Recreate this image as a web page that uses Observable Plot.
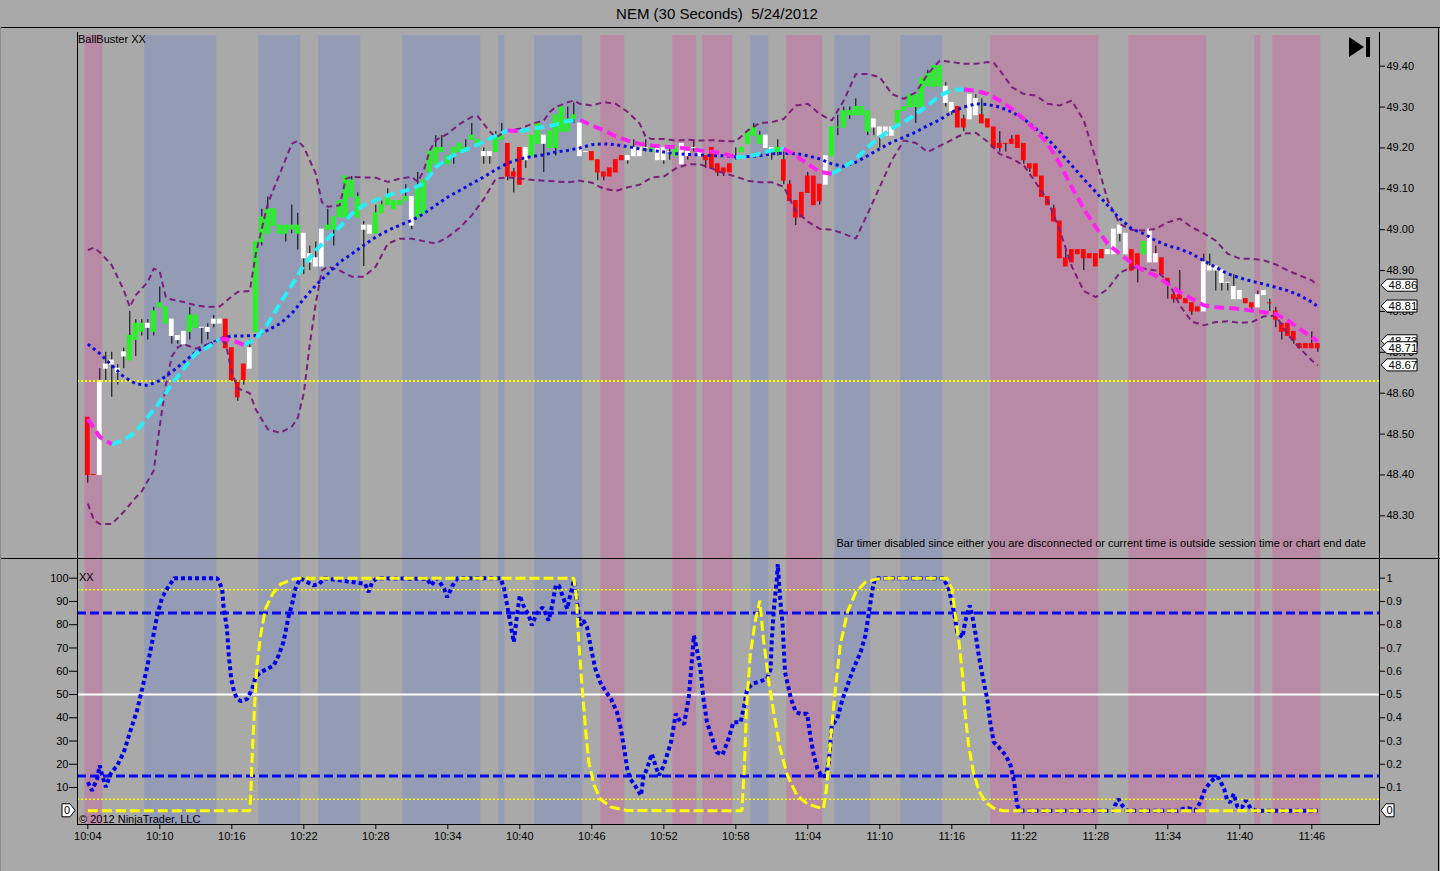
<!DOCTYPE html>
<html><head><meta charset="utf-8">
<script src="https://cdn.jsdelivr.net/npm/d3@7"></script>
<script src="https://cdn.jsdelivr.net/npm/@observablehq/plot@0.6"></script>
<style>
html,body{margin:0;padding:0;background:#a9a9a9;}
#root{position:relative;width:1440px;height:871px;overflow:hidden;background:#a9a9a9;font-family:"Liberation Sans",Arial,sans-serif;color:#000;}
.lbl{position:absolute;white-space:pre;font-size:11px;line-height:13px;}
#overlay{position:absolute;left:0;top:0;pointer-events:none;}
</style></head><body>
<div id="root">
 <div class="lbl" style="left:0;width:1434px;top:5px;text-align:center;font-size:15px;line-height:17px;">NEM (30 Seconds)  5/24/2012</div>
 <div id="upper" style="position:absolute;left:0;top:27px;"></div>
 <div id="lower" style="position:absolute;left:0;top:558px;"></div>
 <div class="lbl" style="left:78px;top:33px;">BallBuster XX</div>
 <div class="lbl" style="left:79px;top:571px;">XX</div>
 <div class="lbl" style="left:79px;top:813px;">© 2012 NinjaTrader, LLC</div>
 <div class="lbl" style="right:74px;top:537px;">Bar timer disabled since either you are disconnected or current time is outside session time or chart end date</div>
 <svg id="overlay" width="1440" height="871"></svg>
</div>
<script>
// ---------------- DATA ----------------
const sessionStart = "10:04:00";
const timeLabels = ["10:04","10:10","10:16","10:22","10:28","10:34","10:40","10:46","10:52","10:58","11:04","11:10","11:16","11:22","11:28","11:34","11:40","11:46"];
const priceTicks = [48.30,48.40,48.50,48.60,48.70,48.80,48.90,49.00,49.10,49.20,49.30,49.40];
const oscTicks = [10,20,30,40,50,60,70,80,90,100];
const referencePrice = 48.63;

// 30-second bars, 10:04:00 .. 11:46:30
const opens = [
48.54,48.40,48.40,48.66,48.67,48.66,48.69,48.68,48.73,48.75,
48.76,48.75,48.81,48.77,48.78,48.74,48.75,48.75,48.76,48.76,
48.76,48.77,48.77,48.78,48.71,48.63,48.67,48.66,48.75,48.97,
48.99,49.01,48.99,48.99,49.00,48.99,48.99,48.94,48.93,48.91,
49.00,49.00,49.03,49.03,49.08,49.03,49.00,48.99,48.99,49.04,
49.06,49.05,49.06,49.07,49.08,49.03,49.04,49.14,49.16,49.19,
49.16,49.18,49.19,49.19,49.22,49.21,49.19,49.19,49.19,49.22,
49.21,49.14,49.20,49.17,49.18,49.21,49.23,49.20,49.20,49.24,
49.24,49.27,49.26,49.19,49.19,49.17,49.14,49.15,49.17,49.18,
49.17,49.18,49.18,49.20,49.19,49.20,49.20,49.19,49.18,49.21,
49.19,49.20,49.19,49.18,49.20,49.16,49.15,49.16,49.18,49.19,
49.21,49.23,49.21,49.23,49.20,49.19,49.17,49.11,49.07,49.09,
49.13,49.13,49.11,49.11,49.18,49.25,49.25,49.28,49.28,49.28,
49.24,49.27,49.25,49.25,49.25,49.26,49.29,49.30,49.30,49.30,
49.35,49.35,49.35,49.35,49.31,49.30,49.27,49.27,49.28,49.28,
49.27,49.25,49.21,49.21,49.22,49.23,49.21,49.16,49.16,49.13,
49.08,49.05,49.02,48.93,48.95,48.95,48.95,48.94,48.94,48.95,
48.94,48.94,48.99,48.94,48.95,48.94,48.94,48.92,48.94,48.93,
48.88,48.84,48.84,48.83,48.82,48.81,48.80,48.91,48.91,48.90,
48.87,48.86,48.85,48.83,48.82,48.81,48.84,48.82,48.80,48.77,
48.77,48.75,48.72,48.72,48.72,48.72];
const highs = [
48.54,48.40,48.66,48.70,48.70,48.67,48.71,48.80,48.78,48.78,
48.78,48.81,48.86,48.81,48.78,48.74,48.75,48.81,48.79,48.76,
48.77,48.79,48.78,48.78,48.71,48.63,48.67,48.73,48.97,49.05,
49.08,49.05,49.01,49.01,49.06,49.04,48.99,48.96,48.97,49.00,
49.05,49.03,49.07,49.13,49.13,49.09,49.02,49.01,49.06,49.07,
49.10,49.07,49.07,49.11,49.08,49.14,49.12,49.19,49.23,49.23,
49.18,49.20,49.21,49.22,49.26,49.22,49.20,49.19,49.24,49.26,
49.21,49.15,49.20,49.20,49.23,49.26,49.23,49.24,49.28,49.30,
49.30,49.31,49.26,49.19,49.19,49.17,49.14,49.15,49.17,49.18,
49.18,49.22,49.20,49.22,49.20,49.20,49.20,49.20,49.20,49.21,
49.19,49.22,49.19,49.18,49.20,49.16,49.15,49.16,49.20,49.20,
49.24,49.26,49.24,49.23,49.20,49.22,49.19,49.12,49.07,49.09,
49.14,49.13,49.11,49.18,49.25,49.28,49.30,49.30,49.32,49.30,
49.29,49.27,49.25,49.25,49.25,49.29,49.30,49.33,49.33,49.37,
49.39,49.40,49.40,49.36,49.31,49.30,49.28,49.33,49.33,49.32,
49.27,49.25,49.24,49.21,49.23,49.23,49.21,49.16,49.16,49.13,
49.08,49.06,49.02,48.95,48.95,48.95,48.95,48.94,48.94,48.95,
48.95,49.00,49.01,48.99,48.95,48.94,48.97,49.00,48.96,48.93,
48.88,48.84,48.90,48.83,48.82,48.81,48.94,48.94,48.91,48.90,
48.87,48.89,48.85,48.83,48.82,48.85,48.85,48.83,48.81,48.77,
48.77,48.75,48.72,48.72,48.75,48.72];
const lows = [
48.38,48.40,48.40,48.63,48.59,48.62,48.66,48.68,48.69,48.74,
48.73,48.74,48.81,48.77,48.72,48.72,48.72,48.73,48.76,48.72,
48.73,48.76,48.77,48.71,48.63,48.58,48.62,48.66,48.75,48.96,
48.99,49.01,48.99,48.97,48.99,48.95,48.89,48.90,48.91,48.91,
49.00,48.96,49.03,49.03,49.08,49.03,48.91,48.99,48.99,49.04,
49.06,49.05,49.06,49.07,49.00,49.03,49.04,49.13,49.16,49.19,
49.16,49.16,49.19,49.19,49.22,49.21,49.16,49.16,49.19,49.22,
49.12,49.09,49.11,49.15,49.18,49.21,49.14,49.20,49.18,49.24,
49.24,49.26,49.18,49.19,49.17,49.12,49.12,49.13,49.14,49.17,
49.16,49.18,49.18,49.19,49.19,49.17,49.16,49.17,49.18,49.16,
49.17,49.19,49.18,49.15,49.15,49.13,49.13,49.14,49.17,49.19,
49.21,49.23,49.21,49.20,49.17,49.18,49.11,49.07,49.01,49.03,
49.09,49.06,49.06,49.11,49.18,49.23,49.25,49.27,49.28,49.28,
49.23,49.23,49.20,49.23,49.23,49.26,49.29,49.30,49.26,49.30,
49.35,49.35,49.35,49.30,49.28,49.25,49.24,49.27,49.28,49.26,
49.25,49.20,49.19,49.19,49.21,49.20,49.16,49.14,49.13,49.08,
49.06,49.02,48.93,48.91,48.92,48.94,48.90,48.93,48.91,48.93,
48.94,48.94,48.97,48.94,48.90,48.87,48.94,48.92,48.92,48.89,
48.83,48.82,48.83,48.82,48.79,48.80,48.80,48.90,48.85,48.85,
48.85,48.83,48.83,48.82,48.80,48.81,48.84,48.80,48.76,48.73,
48.74,48.72,48.71,48.71,48.71,48.70];
const closes = [
48.40,48.40,48.63,48.67,48.68,48.65,48.70,48.74,48.77,48.77,
48.77,48.80,48.82,48.81,48.74,48.73,48.72,48.79,48.79,48.76,
48.75,48.78,48.78,48.71,48.63,48.59,48.63,48.71,48.97,49.03,
49.05,49.05,49.01,49.01,49.01,49.01,48.93,48.92,48.91,49.00,
49.01,49.03,49.07,49.13,49.12,49.08,49.01,49.01,49.04,49.06,
49.08,49.07,49.07,49.08,49.01,49.10,49.12,49.19,49.20,49.20,
49.18,49.20,49.21,49.20,49.23,49.22,49.18,49.18,49.23,49.23,
49.13,49.13,49.11,49.20,49.23,49.26,49.21,49.24,49.28,49.30,
49.27,49.28,49.18,49.19,49.17,49.14,49.13,49.13,49.14,49.17,
49.18,49.20,49.20,49.20,49.20,49.17,49.17,49.19,49.20,49.16,
49.18,49.20,49.18,49.17,49.15,49.14,49.14,49.14,49.18,49.20,
49.24,49.25,49.23,49.20,49.19,49.20,49.12,49.07,49.03,49.03,
49.09,49.06,49.07,49.18,49.25,49.25,49.29,49.29,49.30,49.30,
49.29,49.25,49.23,49.23,49.23,49.29,49.30,49.33,49.33,49.37,
49.38,49.40,49.40,49.31,49.29,49.25,49.25,49.33,49.32,49.26,
49.25,49.20,49.20,49.21,49.21,49.20,49.17,49.15,49.13,49.08,
49.06,49.02,48.93,48.91,48.92,48.94,48.93,48.93,48.91,48.93,
48.95,49.00,49.01,48.99,48.90,48.91,48.97,49.00,48.92,48.89,
48.87,48.83,48.83,48.82,48.80,48.80,48.92,48.90,48.90,48.87,
48.87,48.83,48.83,48.82,48.81,48.84,48.85,48.82,48.78,48.75,
48.74,48.73,48.71,48.71,48.71,48.71];
const barPaint = [
"r","r","w","w","w","w","w","g","g","g",
"w","g","g","g","w","w","w","g","g","w",
"w","w","w","r","r","r","r","w","g","g",
"g","g","g","g","g","g","w","w","w","w",
"g","g","g","g","g","g","w","w","g","g",
"g","g","g","g","w","g","g","g","g","g",
"g","g","g","g","g","g","w","w","g","g",
"r","r","r","w","g","g","w","g","g","g",
"g","g","w","w","r","r","r","r","r","r",
"w","w","w","w","g","w","w","w","g","w",
"w","w","w","r","r","r","r","r","w","g",
"g","g","g","w","w","g","r","r","r","r",
"r","r","r","w","g","g","g","g","g","g",
"g","w","w","w","w","g","g","g","g","g",
"g","g","g","w","w","r","r","w","w","r",
"r","r","r","r","r","r","r","r","r","r",
"r","r","r","r","r","r","r","r","r","r",
"w","w","w","w","r","r","g","w","w","r",
"r","r","r","r","r","r","w","w","w","w",
"w","w","w","r","r","w","w","r","r","r",
"r","r","r","r","r","r"];

// Shaded background periods (first bar, last bar, kind)
const bandStarts = ["10:04:00","10:09:00","10:18:30","10:23:30","10:30:30","10:38:30","10:41:30","10:47:00","10:53:00","10:55:30","10:59:30","11:02:30","11:06:30","11:12:00","11:19:30","11:31:00","11:41:30","11:43:00"];
const bandEnds   = ["10:05:00","10:14:30","10:21:30","10:26:30","10:36:30","10:38:30","10:45:00","10:48:30","10:54:30","10:57:30","11:00:30","11:05:00","11:09:00","11:15:00","11:28:00","11:37:00","11:41:30","11:46:30"];
const bandKinds  = ["pink","blue","blue","blue","blue","blue","blue","pink","pink","pink","blue","pink","blue","blue","pink","pink","pink","pink"];

// Moving averages sampled each minute (10:04 .. 11:46, then 11:46:30)
const fastMA = [
48.537,48.493,48.475,48.485,48.505,48.542,48.578,48.623,48.660,48.697,
48.713,48.733,48.730,48.718,48.733,48.770,48.819,48.864,48.913,48.950,
48.978,49.007,49.039,49.060,49.072,49.084,49.092,49.100,49.113,49.153,
49.174,49.190,49.202,49.215,49.230,49.243,49.241,49.247,49.251,49.257,
49.266,49.269,49.255,49.243,49.228,49.218,49.210,49.206,49.203,49.202,
49.198,49.194,49.191,49.186,49.177,49.179,49.186,49.194,49.198,49.181,
49.161,49.141,49.137,49.153,49.173,49.202,49.226,49.247,49.263,49.283,
49.304,49.328,49.342,49.343,49.340,49.332,49.316,49.296,49.271,49.243,
49.210,49.161,49.104,49.051,49.006,48.965,48.941,48.918,48.900,48.888,
48.867,48.847,48.831,48.815,48.810,48.809,48.806,48.802,48.798,48.794,
48.778,48.757,48.737,48.727];
const slowMA = [
48.720,48.697,48.668,48.640,48.623,48.619,48.631,48.652,48.676,48.701,
48.717,48.733,48.740,48.740,48.741,48.754,48.770,48.795,48.831,48.864,
48.892,48.921,48.941,48.962,48.982,48.998,49.011,49.023,49.039,49.060,
49.080,49.096,49.113,49.129,49.147,49.163,49.173,49.179,49.183,49.190,
49.194,49.200,49.208,49.210,49.208,49.203,49.198,49.194,49.190,49.186,
49.184,49.183,49.181,49.181,49.179,49.179,49.181,49.186,49.187,49.186,
49.181,49.173,49.161,49.155,49.165,49.181,49.198,49.214,49.226,49.239,
49.255,49.269,49.288,49.300,49.308,49.306,49.300,49.288,49.271,49.247,
49.222,49.190,49.157,49.124,49.092,49.059,49.027,49.002,48.990,48.973,
48.961,48.953,48.941,48.924,48.908,48.892,48.882,48.874,48.867,48.859,
48.851,48.839,48.823,48.812];

// Envelope bands: [minutes after 10:04, price]
const upperBand = [[0,48.950],[0.5,48.956],[1,48.945],[2,48.913],[3,48.852],[3.5,48.811],[4,48.840],[5,48.872],[5.5,48.905],[6,48.897],[6.5,48.835],[7,48.829],[8,48.823],[9,48.815],[10,48.811],[11,48.812],[12,48.837],[12.5,48.848],[13.5,48.850],[14,48.941],[15,49.064],[16,49.137],[17,49.210],[17.5,49.218],[18,49.202],[19,49.137],[19.5,49.068],[20,49.056],[21,49.060],[21.5,49.125],[22,49.129],[24,49.127],[25,49.117],[26,49.125],[27,49.129],[27.5,49.117],[28,49.145],[28.5,49.194],[29,49.219],[30,49.235],[31,49.259],[32,49.276],[32.5,49.277],[33,49.259],[33.5,49.240],[34,49.226],[35,49.243],[36,49.247],[37,49.259],[38,49.267],[38.5,49.288],[39,49.300],[40,49.312],[40.5,49.316],[41,49.308],[42,49.304],[43,49.312],[44,49.308],[45,49.288],[46,49.259],[46.5,49.226],[47,49.222],[48,49.222],[49,49.218],[50,49.220],[51,49.218],[52,49.219],[53,49.217],[54,49.216],[55,49.243],[56,49.261],[57,49.263],[58,49.271],[59,49.304],[60,49.308],[61,49.283],[62,49.267],[63,49.316],[64,49.381],[65,49.381],[66,49.373],[67,49.332],[68,49.320],[69,49.336],[70,49.381],[71,49.414],[72,49.410],[73,49.406],[74,49.406],[75,49.410],[75.5,49.408],[76,49.390],[77,49.349],[78,49.332],[79,49.328],[80,49.308],[81,49.304],[82,49.316],[83,49.267],[84,49.173],[85,49.071],[86,49.014],[87,48.999],[88,48.998],[89,49.002],[90,49.018],[91,49.027],[92,49.006],[93,48.991],[94,48.973],[95,48.941],[96,48.929],[97,48.929],[98,48.925],[99,48.915],[100,48.900],[101,48.888],[102,48.876],[102.5,48.863]];
const lowerBand = [[0,48.330],[0.5,48.290],[1,48.280],[2,48.280],[3,48.310],[4,48.345],[4.5,48.360],[5.5,48.411],[6,48.520],[6.5,48.620],[7,48.690],[7.5,48.712],[8,48.720],[9,48.709],[10,48.720],[11,48.733],[11.5,48.722],[12,48.650],[12.5,48.612],[13.5,48.600],[14,48.560],[15,48.512],[16,48.503],[17,48.518],[17.5,48.540],[18,48.600],[18.5,48.720],[19,48.820],[19.5,48.900],[20,48.910],[21,48.900],[22,48.885],[23,48.885],[24,48.910],[25,48.966],[26,48.978],[27,48.978],[28,48.972],[29,48.966],[30,48.982],[31,49.005],[32,49.035],[33,49.075],[34,49.125],[35,49.128],[36,49.125],[37,49.122],[38,49.120],[39,49.118],[40,49.116],[41,49.120],[42,49.115],[43,49.100],[44,49.095],[45,49.104],[46,49.110],[47,49.128],[48,49.130],[49,49.150],[50,49.160],[51,49.160],[52,49.150],[53,49.138],[54,49.130],[55,49.120],[56,49.116],[57,49.116],[58,49.105],[59,49.045],[60,49.020],[61,49.002],[62,49.000],[63,48.990],[64,48.978],[65,49.040],[66,49.105],[67,49.170],[68,49.218],[69,49.212],[70,49.190],[71,49.205],[72,49.220],[73,49.235],[74,49.237],[75,49.215],[76,49.185],[77,49.174],[78,49.157],[79,49.115],[80,49.071],[81,48.998],[82,48.910],[83,48.850],[84,48.835],[85,48.855],[86,48.895],[87,48.908],[88,48.905],[89,48.900],[90,48.875],[91,48.815],[92,48.775],[93,48.766],[94,48.774],[95,48.776],[96,48.772],[97,48.774],[98,48.788],[99,48.790],[100,48.743],[101,48.710],[102,48.680],[102.5,48.668]];

// Lower panel: [minutes after 10:04, value 0..100]
const oscillator = [[0,12.3],[0.35,8.7],[0.78,13.7],[1.0,19.5],[1.2,15.2],[1.5,10.2],[1.9,15.9],[2.45,19.5],[3.0,25.2],[3.56,34.5],[4.1,43.1],[4.53,52.4],[4.95,61.8],[5.36,72.5],[5.78,84],[6.2,91.8],[6.6,95.4],[7.2,100],[10.8,100],[11.2,95.4],[11.3,88.3],[11.6,78.2],[11.75,66.8],[11.95,56.7],[12.2,51],[12.45,48.1],[12.78,47.1],[13.28,48.1],[13.7,52.4],[13.97,57.5],[14.4,59.6],[14.95,61],[15.5,62.5],[15.9,66.8],[16.3,72.5],[16.75,84],[17.0,88.3],[17.3,95.4],[17.7,100],[18.8,96.9],[19.3,97.6],[19.7,100],[23.1,97.6],[23.4,94],[23.7,98.3],[24.1,100],[28.3,99.7],[28.6,96.9],[29.1,100],[29.7,95.4],[29.95,91.8],[30.4,96.9],[30.8,100],[34.4,100],[34.7,95.4],[34.95,88.3],[35.2,81.1],[35.5,72.5],[35.8,85.4],[36.0,92.6],[36.3,88.3],[36.75,84],[37.0,79.7],[37.4,84.7],[37.9,87.5],[38.1,85.4],[38.4,81.8],[38.7,88.3],[39.0,96.9],[39.25,96.9],[39.5,93.3],[39.95,86.8],[40.2,92.6],[40.5,99],[40.8,88.3],[41.05,79.7],[41.3,81.8],[41.6,79],[42.0,68.2],[42.3,61],[42.7,55.3],[43.1,51.7],[43.6,48.1],[44.1,42.4],[44.4,35.9],[44.7,26.6],[44.95,18.1],[45.2,13.7],[45.6,10.9],[46.1,6.6],[46.3,14.5],[46.6,18.1],[47.0,24.5],[47.3,19.5],[47.6,15.2],[48.0,19.5],[48.6,29.5],[49.0,41.7],[49.4,38.1],[49.7,37.4],[50.1,49.6],[50.4,68.2],[50.5,75.4],[50.8,68.2],[51.05,61],[51.3,48.1],[51.6,38.1],[52.0,31.7],[52.4,25.2],[52.9,24.1],[53.4,31],[53.8,38.1],[54.4,38.1],[54.7,45.3],[54.95,52.4],[55.4,54.6],[55.8,55.3],[56.2,56],[56.6,56.7],[56.9,61],[57.0,73.9],[57.2,88.3],[57.4,98.3],[57.5,106],[57.7,91.1],[57.9,79.7],[58.1,59.6],[58.6,48.1],[59.0,42.4],[59.4,41.7],[59.95,41.7],[60.2,32.4],[60.5,23.8],[60.8,18.1],[61.2,14.5],[61.5,15.2],[61.75,20.9],[62.0,36.7],[62.45,39.5],[62.9,48.1],[63.3,53.9],[63.8,61],[64.4,68.2],[64.8,75.4],[65.1,85.4],[65.4,95.4],[65.6,100],[71.3,100],[71.75,95.4],[72.2,84.7],[72.45,76.8],[72.9,74.6],[73.1,81.1],[73.5,88.3],[73.7,84],[74.0,75.4],[74.25,66.8],[74.5,59.6],[74.95,48.1],[75.2,38.1],[75.5,29.5],[75.9,27.4],[76.5,23.8],[76.9,19.5],[77.2,12.3],[77.45,2.3],[77.7,0],[85.5,0],[85.6,2.3],[85.9,5.1],[86.2,2.3],[86.6,0],[90.8,0],[91.3,0.9],[91.75,1.1],[92.3,0],[92.7,3.7],[93.1,9.4],[93.56,12.3],[93.98,14.5],[94.25,14],[94.7,9.4],[94.95,4.4],[95.2,3.7],[95.5,7.3],[95.8,1.6],[96.2,1.6],[96.5,4.4],[96.9,1.1],[97.3,0],[102.5,0]];
const signal = [[0,0],[13.5,0],[13.6,9.4],[13.7,23.8],[13.9,45.3],[14.1,62.5],[14.4,75.4],[14.8,86.8],[15.4,93.3],[16.1,97.6],[17.2,99.7],[17.7,100],[40.5,100],[40.7,92.6],[40.9,73.9],[41.2,52.4],[41.5,33.8],[41.75,20.9],[42.2,10.9],[42.7,5.1],[43.6,1.6],[44.95,0.1],[54.5,0],[54.7,16.6],[54.9,45.3],[55.2,66.8],[55.6,81.1],[56.0,90.4],[56.3,73.9],[56.75,55.3],[57.2,41],[57.7,26.6],[58.3,15.2],[59.1,6.6],[59.95,3],[60.8,1.6],[61.3,0.9],[61.55,9.4],[61.9,31],[62.3,52.4],[62.7,71.1],[63.3,85.4],[64.0,94],[64.8,98.3],[65.8,99.7],[66.6,100],[71.6,100],[72.0,95.4],[72.3,84],[72.6,72.5],[72.9,58],[73.1,42.4],[73.4,28.1],[73.8,16.6],[74.25,8.7],[74.8,3.7],[75.5,1.1],[76.3,0],[102.5,0]];
const oscLevelsHigh = [85, 15];
const oscLevelsOuter = [95, 5];
const oscMid = [50];

// ---------------- BUILD ----------------
const FONT = '"Liberation Sans", Arial, sans-serif';
const toMin = s => { const [h, m, sec = 0] = s.split(":").map(Number); return h * 60 + m + sec / 60; };
const t0 = toMin(sessionStart);
const rel = s => toMin(s) - t0;
const xDom = [-0.858, 107.64];

const bars = opens.map((o, i) => ({t: i * 0.5, o, h: highs[i], l: lows[i], c: closes[i], k: barPaint[i]}));
const bands = bandStarts.map((s, i) => ({x1: rel(s) - 0.25, x2: rel(bandEnds[i]) + 0.25, kind: bandKinds[i]}));
const maMinutes = d3.range(0, 103).concat([102.5]);
const fastPts = maMinutes.map((t, i) => ({t, v: fastMA[i]}));
const slowPts = maMinutes.map((t, i) => ({t, v: slowMA[i]}));
const asPts = arr => arr.map(([t, v]) => ({t, v}));

// split fast MA into rising / falling runs
const runs = [];
for (let i = 0; i < fastPts.length - 1; i++) {
  const dir = fastPts[i + 1].v >= fastPts[i].v ? "up" : "down";
  if (!runs.length || runs[runs.length - 1].dir !== dir) runs.push({dir, pts: [fastPts[i]]});
  runs[runs.length - 1].pts.push(fastPts[i + 1]);
}
const runRows = dir => runs.flatMap((r, k) => r.dir === dir ? r.pts.map(p => ({...p, run: k})) : []);

const PINK = "#b98aa5", BLUE = "#939bb5";
const style = {background: "transparent", color: "black", fontSize: "11px", fontFamily: FONT, overflow: "visible"};
const lineBase = {x: "t", y: "v", strokeLinecap: "butt", strokeLinejoin: "miter"};

const yLo = 48.1956, yHi = 49.4751;
const bandMarks = (lo, hi) => [
  Plot.rect(bands.filter(d => d.kind === "pink"), {x1: "x1", x2: "x2", y1: () => lo, y2: () => hi, fill: PINK}),
  Plot.rect(bands.filter(d => d.kind === "blue"), {x1: "x1", x2: "x2", y1: () => lo, y2: () => hi, fill: BLUE})
];
const bodyOpts = {x1: d => d.t - 0.2, x2: d => d.t + 0.2, y1: d => Math.min(d.o, d.c), y2: d => Math.max(d.o, d.c), insetTop: -0.5, insetBottom: -0.5};

const upper = Plot.plot({
  width: 1440, height: 531, marginLeft: 77, marginRight: 61, marginTop: 8, marginBottom: 0,
  style,
  x: {domain: xDom, axis: null},
  y: {domain: [yLo, yHi], axis: null},
  marks: [
    ...bandMarks(yLo, yHi),
    Plot.ruleX(bars, {x: "t", y1: "l", y2: "h", stroke: "black", strokeWidth: 1}),
    Plot.rect(bars.filter(d => d.k === "g"), {...bodyOpts, fill: "#22f522"}),
    Plot.rect(bars.filter(d => d.k === "w"), {...bodyOpts, fill: "#ffffff"}),
    Plot.rect(bars.filter(d => d.k === "r"), {...bodyOpts, fill: "#f80808"}),
    Plot.ruleY([referencePrice], {stroke: "#ffff00", strokeWidth: 2, strokeDasharray: "2,2"}),
    Plot.line(asPts(upperBand), {...lineBase, stroke: "#7b1f7b", strokeWidth: 2, strokeDasharray: "6,4"}),
    Plot.line(asPts(lowerBand), {...lineBase, stroke: "#7b1f7b", strokeWidth: 2, strokeDasharray: "6,4"}),
    Plot.line(slowPts, {...lineBase, stroke: "#0c0ce0", strokeWidth: 3, strokeDasharray: "3,3.5"}),
    Plot.line(runRows("up"), {...lineBase, z: "run", stroke: "#28eefa", strokeWidth: 4, strokeDasharray: "10,5"}),
    Plot.line(runRows("down"), {...lineBase, z: "run", stroke: "#ff22f0", strokeWidth: 4, strokeDasharray: "10,5"}),
    Plot.axisY(priceTicks, {anchor: "right", tickSize: 5, tickPadding: 2, tickFormat: d => d.toFixed(2), label: null})
  ]
});
document.getElementById("upper").appendChild(upper);

const oLo = -5.89, oHi = 108.04;
const tickMinutes = timeLabels.map(s => rel(s + ":00"));
const lower = Plot.plot({
  width: 1440, height: 313, marginLeft: 77, marginRight: 61, marginTop: 1, marginBottom: 47,
  style,
  x: {domain: xDom, axis: null},
  y: {domain: [oLo, oHi], axis: null},
  marks: [
    ...bandMarks(oLo, oHi),
    Plot.ruleY(oscLevelsOuter, {stroke: "#ffff00", strokeWidth: 1.5, strokeDasharray: "2,2"}),
    Plot.ruleY(oscLevelsHigh, {stroke: "#0a0af0", strokeWidth: 3, strokeDasharray: "9,4"}),
    Plot.ruleY(oscMid, {stroke: "#ffffff", strokeWidth: 2}),
    Plot.line(asPts(oscillator), {...lineBase, stroke: "#0000e8", strokeWidth: 4, strokeDasharray: "4,3"}),
    Plot.line(asPts(signal), {...lineBase, stroke: "#ffff00", strokeWidth: 3, strokeDasharray: "10,4"}),
    Plot.axisX(tickMinutes, {anchor: "bottom", tickSize: 5, tickPadding: 3, tickFormat: (d) => timeLabels[tickMinutes.indexOf(d)], label: null}),
    Plot.axisY(oscTicks, {anchor: "left", tickSize: 8, tickPadding: 1, tickFormat: d => String(d), label: null}),
    Plot.axisY(oscTicks, {anchor: "right", tickSize: 5, tickPadding: 2, tickFormat: d => String(d / 100), label: null})
  ]
});
document.getElementById("lower").appendChild(lower);

// value tags on the price axis (last values)
const yU = upper.scale("y");
const gU = d3.select(upper).append("g").attr("font-family", FONT).attr("font-size", 11.5).attr("text-anchor", "start");
const tagVals = [upperBand[upperBand.length - 1][1], slowMA[slowMA.length - 1], fastMA[fastMA.length - 1], closes[closes.length - 1], lowerBand[lowerBand.length - 1][1]];
tagVals.forEach(v => {
  const y = yU.apply(v);
  gU.append("path").attr("d", `M1381,${y}L1387,${y - 6}H1417V${y + 6}H1387Z`).attr("fill", "white").attr("stroke", "black");
  gU.append("text").attr("x", 1388.5).attr("y", y).attr("dy", "0.36em").text((Math.round(v * 100) / 100).toFixed(2));
});
// zero tags on the oscillator panel
const yL = lower.scale("y");
const gL = d3.select(lower).append("g").attr("font-family", FONT).attr("font-size", 11).attr("text-anchor", "start");
const y0 = yL.apply(0);
gL.append("path").attr("d", `M62,${y0 - 6.5}H70L75,${y0}L70,${y0 + 6.5}H62Z`).attr("fill", "white").attr("stroke", "black");
gL.append("text").attr("x", 64).attr("y", y0).attr("dy", "0.36em").text("0");
gL.append("path").attr("d", `M1381,${y0}L1386,${y0 - 6.5}H1394V${y0 + 6.5}H1386Z`).attr("fill", "white").attr("stroke", "black");
gL.append("text").attr("x", 1386.5).attr("y", y0).attr("dy", "0.36em").text("0");

// frame lines and the end-of-chart icon
const ov = d3.select("#overlay");
const ln = (x1, y1, x2, y2, c = "black") => ov.append("line").attr("x1", x1).attr("y1", y1).attr("x2", x2).attr("y2", y2).attr("stroke", c).attr("stroke-width", 1).attr("shape-rendering", "crispEdges");
ln(0, 27.5, 1440, 27.5);
ln(0, 558.5, 1440, 558.5);
ln(77.5, 32, 77.5, 824);
ln(1379.5, 32, 1379.5, 824);
ln(77, 824.5, 1380, 824.5);
ln(1438.5, 27, 1438.5, 871);
ln(0.5, 27, 0.5, 871, "#8a8a8a");
ov.append("path").attr("d", "M1349,37L1349,57L1364,47Z").attr("fill", "black");
ov.append("rect").attr("x", 1366).attr("y", 37).attr("width", 4).attr("height", 20).attr("fill", "black");
</script>
</body></html>
